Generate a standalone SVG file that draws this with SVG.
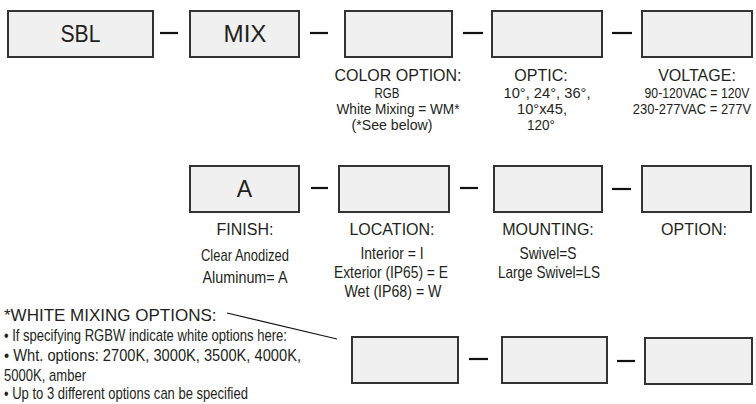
<svg xmlns="http://www.w3.org/2000/svg" width="756" height="404" viewBox="0 0 756 404">
<style>
.box{fill:#eff0ef;stroke:#333;stroke-width:2}
.big{font-family:"Liberation Sans",Arial,sans-serif;font-size:23px;fill:#231f20;text-anchor:middle}
.ttl{font-family:"Liberation Sans",Arial,sans-serif;font-size:16px;fill:#231f20;text-anchor:middle}
.nar{font-family:"Liberation Sans Narrow","Liberation Sans",Arial,sans-serif;font-size:17px;fill:#231f20;text-anchor:middle}
.sm{font-size:15px}
.nl{font-family:"Liberation Sans Narrow","Liberation Sans",Arial,sans-serif;font-size:17px;fill:#231f20}
.hd{font-family:"Liberation Sans",Arial,sans-serif;font-size:17px;fill:#231f20}
.dash{stroke:#111;stroke-width:2.2}
.lead{stroke:#111;stroke-width:1.2;fill:none}
</style>
<rect width="756" height="404" fill="#fff"/>
<g id="connectors">
<line class="dash" x1="160" y1="33" x2="178" y2="33"/>
<line class="dash" x1="310" y1="33" x2="328" y2="33"/>
<line class="dash" x1="463" y1="33" x2="483" y2="33"/>
<line class="dash" x1="612" y1="33" x2="632" y2="33"/>
<line class="dash" x1="311" y1="188" x2="328" y2="188"/>
<line class="dash" x1="460" y1="188" x2="478" y2="188"/>
<line class="dash" x1="612" y1="189" x2="631" y2="189"/>
<line class="dash" x1="469" y1="359" x2="488" y2="359"/>
<line class="dash" x1="617" y1="361" x2="635" y2="361"/>
<line class="lead" x1="227" y1="313" x2="337" y2="339"/>
</g>
<g id="sbl">
<rect class="box" x="8" y="11" width="145" height="46"/>
<text class="big" x="80.5" y="42" textLength="40" lengthAdjust="spacingAndGlyphs">SBL</text>
</g>
<g id="mix">
<rect class="box" x="190" y="11" width="109" height="46"/>
<text class="big" x="245" y="42" textLength="43" lengthAdjust="spacingAndGlyphs">MIX</text>
</g>
<g id="color-option">
<rect class="box" x="345" y="11" width="107" height="46"/>
<text class="ttl" x="398" y="81">COLOR OPTION:</text>
<text class="nar sm" x="387" y="98" textLength="25" lengthAdjust="spacingAndGlyphs">RGB</text>
<text class="nar sm" x="398" y="114" textLength="123" lengthAdjust="spacingAndGlyphs">White Mixing = WM*</text>
<text class="nar sm" x="392" y="130" textLength="81" lengthAdjust="spacingAndGlyphs">(*See below)</text>
</g>
<g id="optic">
<rect class="box" x="492" y="11" width="110" height="46"/>
<text class="ttl" x="541" y="81">OPTIC:</text>
<text class="nar sm" x="547" y="98" textLength="87" lengthAdjust="spacingAndGlyphs">10°, 24°, 36°,</text>
<text class="nar sm" x="542" y="114" textLength="50" lengthAdjust="spacingAndGlyphs">10°x45,</text>
<text class="nar sm" x="541" y="130" textLength="28" lengthAdjust="spacingAndGlyphs">120°</text>
</g>
<g id="voltage">
<rect class="box" x="642" y="11" width="110" height="46"/>
<text class="ttl" x="697" y="81">VOLTAGE:</text>
<text class="nar sm" transform="translate(697,98) scale(0.817,1)" x="0" y="0">90-120VAC = 120V</text>
<text class="nar sm" transform="translate(692,114) scale(0.865,1)" x="0" y="0">230-277VAC = 277V</text>
</g>
<g id="finish">
<rect class="box" x="190" y="166" width="109" height="46"/>
<text class="big" x="244.5" y="197">A</text>
<text class="ttl" x="245" y="235">FINISH:</text>
<text class="nar" x="245" y="261" textLength="88" lengthAdjust="spacingAndGlyphs">Clear Anodized</text>
<text class="nar" x="245" y="283" textLength="85" lengthAdjust="spacingAndGlyphs">Aluminum= A</text>
</g>
<g id="location">
<rect class="box" x="339" y="166" width="110" height="46"/>
<text class="ttl" x="392" y="235">LOCATION:</text>
<text class="nar" x="392" y="259" textLength="63" lengthAdjust="spacingAndGlyphs">Interior = I</text>
<text class="nar" x="391" y="278" textLength="114" lengthAdjust="spacingAndGlyphs">Exterior (IP65) = E</text>
<text class="nar" x="393" y="297" textLength="97" lengthAdjust="spacingAndGlyphs">Wet (IP68) = W</text>
</g>
<g id="mounting">
<rect class="box" x="494" y="166" width="108" height="46"/>
<text class="ttl" x="548" y="235">MOUNTING:</text>
<text class="nar" x="548" y="259" textLength="57" lengthAdjust="spacingAndGlyphs">Swivel=S</text>
<text class="nar" x="549" y="278" textLength="102" lengthAdjust="spacingAndGlyphs">Large Swivel=LS</text>
</g>
<g id="option">
<rect class="box" x="642" y="166" width="109" height="46"/>
<text class="ttl" x="694" y="235">OPTION:</text>
</g>
<g id="white-1">
<rect class="box" x="352" y="337" width="106" height="46"/>
</g>
<g id="white-2">
<rect class="box" x="502" y="337" width="105" height="46"/>
</g>
<g id="white-3">
<rect class="box" x="645" y="338" width="107" height="46"/>
</g>
<g id="white-notes">
<text class="hd" x="4" y="321">*WHITE MIXING OPTIONS:</text>
<text class="nl" x="4" y="341" textLength="283" lengthAdjust="spacingAndGlyphs">• If specifying RGBW indicate white options here:</text>
<text class="nl" x="4" y="361" textLength="297" lengthAdjust="spacingAndGlyphs">• Wht. options:  2700K, 3000K, 3500K, 4000K,</text>
<text class="nl" x="4" y="381" textLength="82" lengthAdjust="spacingAndGlyphs">5000K, amber</text>
<text class="nl" x="4" y="399" textLength="244" lengthAdjust="spacingAndGlyphs">• Up to 3 different options can be specified</text>
</g>
</svg>
